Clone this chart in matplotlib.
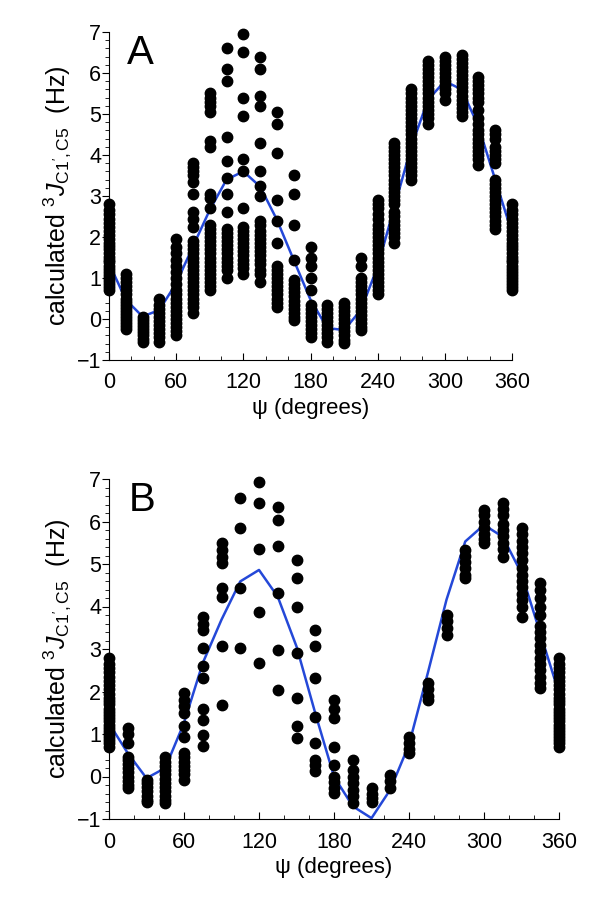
import numpy as np
import matplotlib
matplotlib.use("Agg")
import matplotlib.pyplot as plt
from matplotlib.ticker import MultipleLocator

plt.rcParams['font.family'] = ['Liberation Sans', 'DejaVu Sans']
plt.rcParams['mathtext.fontset'] = 'custom'
plt.rcParams['mathtext.rm'] = 'Liberation Sans'
plt.rcParams['mathtext.it'] = 'Liberation Sans:italic'

# psi angles of each column of points (degrees)
angles = [0, 15, 30, 45, 60, 75, 90, 105, 120, 135, 150, 165, 180,
          195, 210, 225, 240, 255, 270, 285, 300, 315, 330, 345, 360]

col_0 = [0.7, 0.78, 0.85, 0.92, 1.0, 1.08, 1.15, 1.22, 1.3, 1.38, 1.45, 1.52, 1.6,
         1.7, 1.78, 1.85, 1.95, 2.05, 2.15, 2.25, 2.35, 2.45, 2.55, 2.65, 2.8]

# panel A: calculated couplings per column
a_points = [
    col_0,
    [-0.25, -0.18, -0.1, -0.02, 0.05, 0.12, 0.2, 0.28, 0.35, 0.42, 0.5, 0.6, 0.7, 0.8, 0.9, 1.0, 1.1],
    [-0.55, -0.48, -0.4, -0.32, -0.25, -0.18, -0.1, -0.02, 0.05],
    [-0.55, -0.45, -0.35, -0.25, -0.15, -0.05, 0.05, 0.15, 0.25, 0.35, 0.5],
    [-0.4, -0.3, -0.2, -0.1, 0.0, 0.1, 0.2, 0.3, 0.4, 0.5, 0.6, 0.7, 0.85, 1.0, 1.15, 1.3, 1.45, 1.6, 1.75, 1.95],
    [3.8, 3.7, 3.6, 3.5, 3.35, 3.05, 2.6, 2.45, 2.25, 1.9, 1.8, 1.7, 1.6, 1.5, 1.4, 1.3, 1.2, 1.1,
     1.0, 0.9, 0.8, 0.7, 0.6, 0.5, 0.4, 0.3, 0.15],
    [5.5, 5.4, 5.3, 5.2, 5.05, 4.35, 4.2, 3.05, 2.95, 2.7, 2.3, 2.2, 2.1, 2.0, 1.9, 1.8, 1.7, 1.6,
     1.5, 1.4, 1.3, 1.2, 1.1, 1.0, 0.9, 0.8, 0.7],
    [6.6, 6.1, 5.8, 4.45, 3.85, 3.45, 3.05, 2.6, 2.2, 2.1, 2.0, 1.9, 1.8, 1.7, 1.6, 1.5, 1.4, 1.3, 1.2, 1.0],
    [6.95, 6.5, 5.4, 4.95, 3.9, 3.6, 2.7, 2.25, 2.15, 2.05, 1.95, 1.85, 1.75, 1.65, 1.55, 1.45, 1.35, 1.25, 1.1],
    [6.4, 6.1, 5.45, 5.2, 4.3, 3.6, 3.25, 3.0, 2.4, 2.3, 2.15, 2.05, 1.95, 1.85, 1.75, 1.65, 1.55,
     1.45, 1.35, 1.2, 1.1, 0.9],
    [5.05, 4.75, 4.05, 2.9, 2.4, 1.85, 1.3, 1.2, 1.1, 1.0, 0.9, 0.8, 0.7, 0.6, 0.5, 0.4, 0.3],
    [3.5, 3.05, 2.3, 1.45, 0.95, 0.85, 0.75, 0.65, 0.55, 0.45, 0.35, 0.25, 0.15, 0.05, -0.02],
    [1.75, 1.5, 1.3, 1.0, 0.7, 0.35, 0.25, 0.15, 0.05, -0.05, -0.15, -0.25, -0.35, -0.43],
    [0.35, 0.25, 0.15, 0.05, -0.05, -0.15, -0.25, -0.35, -0.45, -0.55],
    [0.4, 0.3, 0.2, 0.1, 0.0, -0.1, -0.2, -0.3, -0.4, -0.5, -0.58],
    [1.5, 1.3, 1.0, 0.9, 0.8, 0.7, 0.6, 0.5, 0.4, 0.3, 0.2, 0.1, 0.0, -0.1, -0.2, -0.27],
    [2.9, 2.8, 2.7, 2.55, 2.45, 2.3, 2.2, 2.1, 2.0, 1.9, 1.8, 1.7, 1.6, 1.5, 1.4, 1.3, 1.2, 1.1,
     1.0, 0.9, 0.8, 0.7, 0.6],
    [4.3, 4.2, 4.1, 4.0, 3.9, 3.8, 3.7, 3.6, 3.5, 3.4, 3.3, 3.2, 3.1, 3.0, 2.9, 2.8, 2.6, 2.5,
     2.4, 2.3, 2.2, 2.1, 2.0, 1.85],
    [5.6, 5.5, 5.4, 5.3, 5.2, 5.1, 5.0, 4.9, 4.8, 4.7, 4.6, 4.5, 4.4, 4.3, 4.2, 4.1, 4.0, 3.9,
     3.8, 3.7, 3.6, 3.5, 3.4],
    [6.3, 6.2, 6.1, 6.0, 5.9, 5.8, 5.7, 5.6, 5.5, 5.4, 5.3, 5.2, 5.1, 5.0, 4.9, 4.75],
    [6.4, 6.3, 6.2, 6.1, 6.0, 5.9, 5.8, 5.7, 5.6, 5.5, 5.35],
    [6.45, 6.35, 6.25, 6.15, 6.05, 5.95, 5.85, 5.75, 5.65, 5.55, 5.45, 5.35, 5.25, 5.15, 5.05, 4.95],
    [5.9, 5.8, 5.7, 5.6, 5.5, 5.4, 5.3, 5.1, 4.9, 4.75, 4.6, 4.5, 4.4, 4.3, 4.2, 4.1, 4.0, 3.9, 3.75],
    [4.6, 4.5, 4.4, 4.2, 4.1, 4.0, 3.9, 3.8, 3.4, 3.3, 3.2, 3.1, 3.0, 2.9, 2.8, 2.7, 2.6, 2.5,
     2.4, 2.3, 2.2],
    col_0,
]
a_curve = [1.36, 0.47, 0.06, 0.22, 0.87, 1.77, 2.66, 3.4, 3.6, 3.23, 2.42, 1.44, 0.47,
           -0.22, -0.27, 0.22, 1.28, 2.74, 4.2, 5.35, 5.8, 5.6, 4.7, 3.4, 2.1]

# panel B
b_points = [
    col_0,
    [1.14, 1.0, 0.79, 0.47, 0.4, 0.3, 0.2, 0.1, 0.0, -0.1, -0.2, -0.27],
    [-0.08, -0.15, -0.25, -0.35, -0.45, -0.55, -0.59],
    [0.47, 0.35, 0.25, 0.15, 0.05, -0.05, -0.15, -0.25, -0.35, -0.45, -0.55, -0.63],
    [1.96, 1.8, 1.65, 1.5, 1.18, 0.94, 0.55, 0.45, 0.35, 0.25, 0.15, 0.05, -0.08],
    [3.76, 3.6, 3.45, 3.02, 2.59, 2.31, 1.6, 1.33, 0.98, 0.71],
    [5.49, 5.33, 5.17, 5.02, 4.43, 4.23, 3.06, 1.69],
    [6.55, 5.84, 4.43, 3.02],
    [6.94, 6.43, 5.35, 3.88, 2.67],
    [6.35, 6.04, 5.42, 4.31, 2.98, 2.04],
    [5.1, 4.66, 4.0, 2.9, 1.84, 1.18, 0.9],
    [3.45, 3.06, 2.31, 1.41, 0.79, 0.4, 0.26, 0.12],
    [1.8, 1.6, 1.37, 0.7, 0.28, 0.0, -0.13, -0.26, -0.39],
    [0.39, 0.15, 0.0, -0.16, -0.31, -0.47, -0.63],
    [-0.27, -0.4, -0.5, -0.59],
    [0.04, -0.1, -0.27],
    [0.94, 0.8, 0.65, 0.55],
    [2.2, 2.05, 1.9, 1.8],
    [3.8, 3.65, 3.5, 3.33],
    [5.33, 5.2, 5.05, 4.9, 4.75, 4.66],
    [6.27, 6.15, 6.0, 5.85, 5.7, 5.6, 5.49],
    [6.43, 6.3, 6.15, 5.95, 5.8, 5.65, 5.5, 5.35, 5.17],
    [5.84, 5.7, 5.55, 5.4, 5.25, 5.1, 4.9, 4.75, 4.6, 4.45, 4.3, 4.15, 4.0, 3.76],
    [4.55, 4.4, 4.2, 4.0, 3.8, 3.55, 3.4, 3.25, 3.1, 2.95, 2.8, 2.65, 2.5, 2.35, 2.2, 2.08],
    col_0,
]
b_curve = [1.25, 0.55, -0.04, 0.2, 1.26, 2.67, 3.69, 4.59, 4.86, 4.23, 3.06, 1.49, 0.0,
           -0.7, -0.98, -0.31, 0.75, 2.43, 4.16, 5.53, 5.92, 5.64, 4.78, 3.37, 1.96]

xticks = [0, 60, 120, 180, 240, 300, 360]
yticks = [-1, 0, 1, 2, 3, 4, 5, 6, 7]
ylabel = r"calculated $^{3}\mathit{J}_{\mathrm{C1',C5}}$  (Hz)"

fig = plt.figure(figsize=(6, 9.18), dpi=100)
axA = fig.add_axes([109/600, 1-360/918, 403/600, 328/918])
axB = fig.add_axes([109/600, 1-819/918, 450/600, 340/918])

for ax, pts, curve, letter in [(axA, a_points, a_curve, "A"), (axB, b_points, b_curve, "B")]:
    ax.plot(angles, curve, color='#2448d8', lw=1.8, zorder=2, clip_on=False)
    for ang, ys in zip(angles, pts):
        ax.plot([ang]*len(ys), ys, 'o', color='black', ms=7.5, mec='black', zorder=3, clip_on=False)
    ax.set_xlim(0, 360)
    ax.set_ylim(-1, 7)
    ax.set_xticks(xticks)
    ax.set_yticks(yticks)
    ax.xaxis.set_minor_locator(MultipleLocator(20))
    ax.yaxis.set_minor_locator(MultipleLocator(0.2))
    ax.spines['top'].set_visible(False)
    ax.spines['right'].set_visible(False)
    ax.tick_params(axis='x', which='both', direction='in', labelsize=15.5, pad=9)
    ax.tick_params(axis='x', which='major', length=5)
    ax.tick_params(axis='x', which='minor', length=3)
    ax.tick_params(axis='y', which='both', direction='out', labelsize=15.5, pad=0.5)
    ax.tick_params(axis='y', which='major', length=5)
    ax.tick_params(axis='y', which='minor', length=3)
    ax.set_xlabel("ψ (degrees)", fontsize=16, labelpad=3)
    ax.set_ylabel(ylabel, fontsize=18, labelpad=3)
    ax.text(0.045, 0.995, letter, transform=ax.transAxes, fontsize=29, va='top', ha='left')

fig.savefig("out.png", dpi=100)
